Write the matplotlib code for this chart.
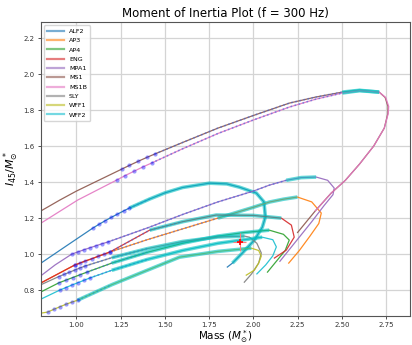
import matplotlib
matplotlib.use("Agg")
import matplotlib.pyplot as plt

# Mass (M_sun) and moment of inertia (10^45 g cm^2) along each sequence
eos_names = ["ALF2", "AP3", "AP4", "ENG", "MPA1", "MS1", "MS1B", "SLY", "WFF1", "WFF2"]

alf2_m = [0.80, 0.95, 1.092, 1.127, 1.162, 1.197, 1.232, 1.267, 1.30, 1.414, 1.50, 1.60, 1.752, 1.85, 1.921, 2.017, 2.06, 2.068, 2.051, 2.006, 1.938, 1.882, 1.853]
alf2_i = [0.95, 1.05, 1.144, 1.165, 1.185, 1.204, 1.222, 1.240, 1.256, 1.306, 1.34, 1.37, 1.394, 1.39, 1.372, 1.339, 1.29, 1.206, 1.15, 1.078, 1.006, 0.95, 0.928]

ap3_m = [0.80, 0.99, 1.188, 1.40, 1.60, 1.80, 2.00, 2.09, 2.17, 2.249, 2.33, 2.384, 2.37, 2.32, 2.26, 2.20]
ap3_i = [0.84, 0.939, 1.011, 1.08, 1.14, 1.20, 1.26, 1.289, 1.305, 1.317, 1.29, 1.228, 1.17, 1.10, 1.02, 0.95]

ap4_m = [0.80, 0.90, 0.94, 0.98, 1.02, 1.06, 1.20, 1.40, 1.60, 1.80, 1.95, 2.09, 2.17, 2.203, 2.18, 2.13, 2.08]
ap4_i = [0.79, 0.84, 0.855, 0.87, 0.885, 0.90, 0.95, 1.01, 1.06, 1.10, 1.12, 1.133, 1.11, 1.078, 1.02, 0.96, 0.90]

eng_m = [0.80, 0.99, 1.02, 1.05, 1.09, 1.12, 1.155, 1.188, 1.414, 1.60, 1.79, 2.00, 2.158, 2.215, 2.231, 2.186, 2.119]
eng_i = [0.84, 0.939, 0.95, 0.962, 0.975, 0.987, 0.999, 1.011, 1.133, 1.18, 1.217, 1.215, 1.20, 1.161, 1.094, 1.022, 0.978]

mpa1_m = [0.80, 0.88, 0.974, 1.008, 1.042, 1.076, 1.110, 1.143, 1.177, 1.30, 1.414, 1.60, 1.80, 2.00, 2.09, 2.186, 2.27, 2.355, 2.42, 2.457, 2.45, 2.40, 2.33, 2.24, 2.15]
mpa1_i = [0.88, 0.94, 1.00, 1.012, 1.024, 1.035, 1.046, 1.057, 1.067, 1.11, 1.15, 1.22, 1.29, 1.35, 1.383, 1.41, 1.425, 1.428, 1.41, 1.367, 1.33, 1.27, 1.18, 1.07, 0.96]

ms1_m = [0.80, 0.906, 1.00, 1.256, 1.30, 1.35, 1.40, 1.443, 1.60, 1.80, 2.00, 2.204, 2.35, 2.503, 2.60, 2.711, 2.745, 2.761, 2.76, 2.74, 2.68, 2.60, 2.52, 2.44, 2.35, 2.25]
ms1_i = [1.24, 1.30, 1.35, 1.472, 1.493, 1.516, 1.538, 1.556, 1.62, 1.70, 1.77, 1.839, 1.872, 1.90, 1.91, 1.90, 1.87, 1.82, 1.78, 1.70, 1.60, 1.50, 1.41, 1.339, 1.24, 1.12]

ms1b_m = [0.80, 1.007, 1.227, 1.275, 1.325, 1.375, 1.425, 1.60, 1.80, 2.00, 2.204, 2.35, 2.503, 2.60, 2.711, 2.748, 2.765, 2.762, 2.74, 2.68, 2.60, 2.52, 2.44, 2.35]
ms1b_i = [1.172, 1.30, 1.411, 1.436, 1.460, 1.484, 1.506, 1.585, 1.67, 1.745, 1.817, 1.86, 1.895, 1.908, 1.90, 1.87, 1.82, 1.78, 1.70, 1.60, 1.50, 1.41, 1.339, 1.24]

sly_m = [0.80, 0.90, 0.93, 0.96, 0.99, 1.02, 1.05, 1.20, 1.40, 1.60, 1.80, 1.95, 1.978, 2.02, 2.045, 2.03, 1.99, 1.949]
sly_i = [0.83, 0.875, 0.887, 0.899, 0.911, 0.923, 0.934, 0.98, 1.03, 1.07, 1.095, 1.10, 1.094, 1.06, 1.006, 0.95, 0.89, 0.844]

wff1_m = [0.80, 0.838, 0.872, 0.906, 0.940, 0.974, 1.007, 1.20, 1.40, 1.583, 1.80, 1.989, 2.03, 2.045, 2.03, 2.006, 1.96]
wff1_i = [0.672, 0.678, 0.693, 0.707, 0.721, 0.733, 0.744, 0.83, 0.91, 0.983, 1.015, 1.033, 1.02, 0.989, 0.95, 0.911, 0.883]

wff2_m = [0.80, 0.906, 0.940, 0.974, 1.008, 1.042, 1.075, 1.20, 1.40, 1.60, 1.80, 1.95, 2.05, 2.11, 2.13, 2.11, 2.07, 2.02]
wff2_i = [0.75, 0.80, 0.814, 0.828, 0.841, 0.854, 0.867, 0.91, 0.97, 1.02, 1.06, 1.08, 1.094, 1.08, 1.04, 0.99, 0.94, 0.89]

masses = [alf2_m, ap3_m, ap4_m, eng_m, mpa1_m, ms1_m, ms1b_m, sly_m, wff1_m, wff2_m]
inertias = [alf2_i, ap3_i, ap4_i, eng_i, mpa1_i, ms1_i, ms1b_i, sly_i, wff1_i, wff2_i]

# index spans (start, stop) along each sequence for the overlays
dot_spans = [(2, 9), (1, 3), (1, 6), (1, 8), (2, 9), (3, 8), (2, 7), (1, 7), (1, 7), (1, 7)]
dotted_spans = [(8, 9), (2, 5), (5, 7), (7, 9), (8, 15), (7, 13), (6, 12), (6, 8), (6, 7), (6, 8)]
thick_spans = [(8, 21), (5, 9), (6, 11), (8, 12), (15, 17), (13, 15), (12, 14), (7, 11), (6, 11), (7, 12)]

# observed point with uncertainty
obs_m = [1.922]
obs_i = [1.067]
obs_m_err = [0.035]
obs_i_err = [0.05]

fig = plt.figure(figsize=(4.12, 3.45), dpi=100)
ax = fig.add_axes([0.0995, 0.084, 0.8955, 0.852])

for k, name in enumerate(eos_names):
    m, i = masses[k], inertias[k]
    ax.plot(m, i, color=f"C{k}", lw=0.9, alpha=0.9, label=name)
    a, b = dotted_spans[k]
    ax.plot(m[a:b + 1], i[a:b + 1], color="royalblue", lw=1.2, ls=(0, (1, 1.5)), alpha=0.6)
    a, b = thick_spans[k]
    ax.plot(m[a:b + 1], i[a:b + 1], color="c", lw=2.6, alpha=0.6, solid_capstyle="butt")
    a, b = dot_spans[k]
    ax.plot(m[a:b], i[a:b], ls="none", marker="o", ms=3, color="blue", alpha=0.4, mec="none")

ax.errorbar(obs_m, obs_i, xerr=obs_m_err, yerr=obs_i_err, fmt="+", color="red",
            ecolor=(1, 0.5, 0.5), elinewidth=0.8, ms=4, mew=1.2)

ax.set_xlim(0.8, 2.885)
ax.set_ylim(0.656, 2.289)
ax.set_xticks([1.0, 1.25, 1.5, 1.75, 2.0, 2.25, 2.5, 2.75])
ax.set_yticks([0.8, 1.0, 1.2, 1.4, 1.6, 1.8, 2.0, 2.2])
ax.tick_params(labelsize=5, length=2.5, width=0.6, colors="#333333", pad=2)
ax.grid(True, color="#d4d4d4", lw=0.9)
for s in ax.spines.values():
    s.set_color("#555555")
    s.set_linewidth(0.8)

ax.set_title("Moment of Inertia Plot (f = 300 Hz)", fontsize=8.5, pad=4)
ax.set_xlabel(r"Mass ($M^*_{\odot}$)", fontsize=7.5, labelpad=0)
ax.set_ylabel(r"$I_{45}/M^*_{\odot}$", fontsize=8, labelpad=2)

leg = ax.legend(loc="upper left", fontsize=4.6, handlelength=2.6, frameon=True,
                borderpad=0.5, labelspacing=0.6, handletextpad=0.8)
for h in leg.get_lines():
    h.set_linewidth(1.6)
    h.set_alpha(0.6)

fig.savefig("out.png", dpi=100)
